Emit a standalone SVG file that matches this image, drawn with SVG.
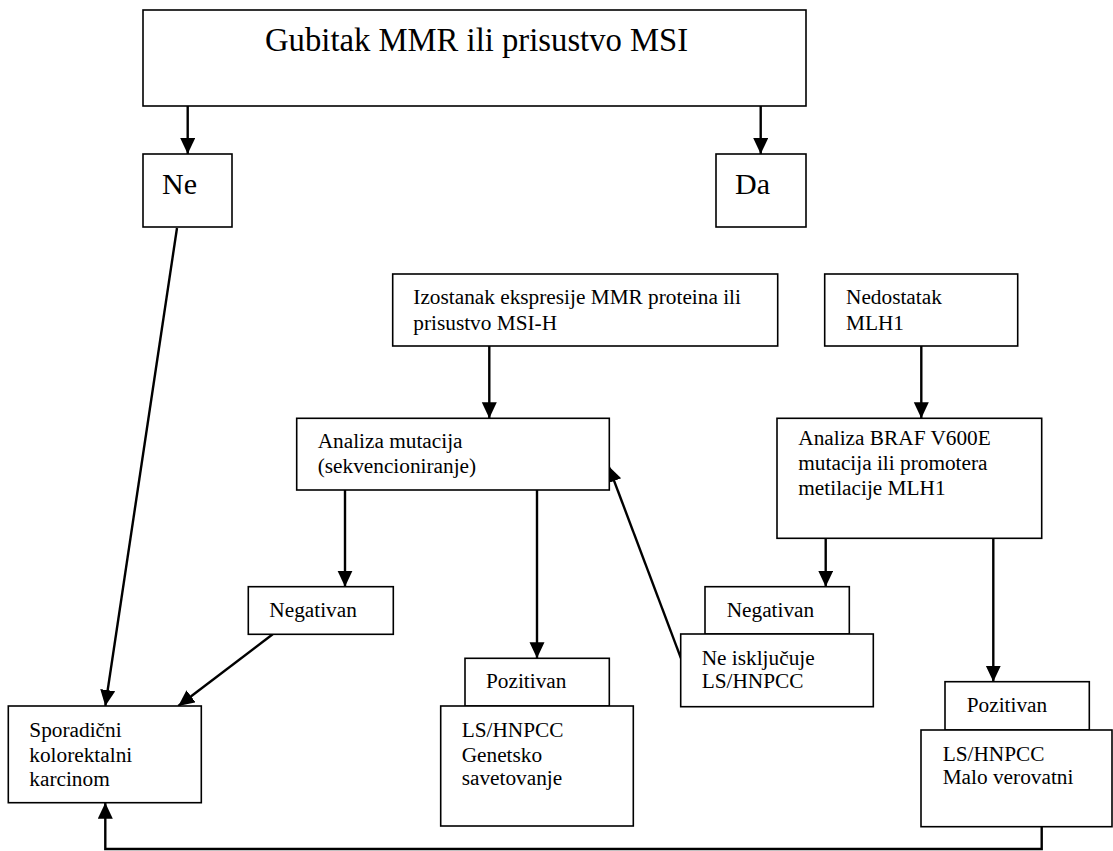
<svg xmlns="http://www.w3.org/2000/svg" width="1113" height="851" viewBox="0 0 1113 851">
<defs>
<style>
.box{fill:#fff;stroke:#000;stroke-width:1.6}
.t{font-family:'Liberation Serif','DejaVu Serif',serif;font-size:21.3px;fill:#000}
.big{font-size:32.7px}
.mid{font-size:30px}
.c{fill:none;stroke:#000;stroke-width:2.4}
</style>
<marker id="ah" markerUnits="userSpaceOnUse" markerWidth="17" markerHeight="16" refX="16" refY="7.5" orient="auto">
<path d="M0,0 L16,7.5 L0,15 z" fill="#000"/>
</marker>
</defs>
<rect width="1113" height="851" fill="#fff"/>
<g id="connectors">
<line class="c" x1="187.7" y1="106" x2="187.7" y2="154" marker-end="url(#ah)"/>
<line class="c" x1="760.7" y1="106" x2="760.7" y2="154" marker-end="url(#ah)"/>
<line class="c" x1="177" y1="228" x2="105.3" y2="706" marker-end="url(#ah)"/>
<line class="c" x1="489.3" y1="346" x2="489.3" y2="418.3" marker-end="url(#ah)"/>
<line class="c" x1="921.3" y1="346" x2="921.3" y2="418.3" marker-end="url(#ah)"/>
<line class="c" x1="345" y1="490" x2="345" y2="586.7" marker-end="url(#ah)"/>
<line class="c" x1="537" y1="490" x2="537" y2="658.3" marker-end="url(#ah)"/>
<line class="c" x1="272.7" y1="634.3" x2="178.3" y2="706" marker-end="url(#ah)"/>
<line class="c" x1="681" y1="658.3" x2="608.5" y2="466" marker-end="url(#ah)"/>
<line class="c" x1="825.7" y1="538.3" x2="825.7" y2="586.7" marker-end="url(#ah)"/>
<line class="c" x1="993.3" y1="538.3" x2="993.3" y2="681.7" marker-end="url(#ah)"/>
<polyline class="c" points="1041.7,826.7 1041.7,849 105.3,849 105.3,802.7" marker-end="url(#ah)"/>
</g>
<g id="n-top">
<rect class="box" x="143" y="10" width="663" height="96"/>
<text class="t big" x="265" y="51">Gubitak MMR ili prisustvo MSI</text>
</g>
<g id="n-ne">
<rect class="box" x="143" y="154" width="89" height="73"/>
<text class="t mid" x="162" y="194">Ne</text>
</g>
<g id="n-da">
<rect class="box" x="716" y="154" width="90" height="73"/>
<text class="t mid" x="735" y="194">Da</text>
</g>
<g id="n-izostanak">
<rect class="box" x="392.7" y="274" width="385" height="72"/>
<text class="t" x="413.3" y="304.3">Izostanak ekspresije MMR proteina ili</text>
<text class="t" x="413.3" y="330">prisustvo MSI-H</text>
</g>
<g id="n-nedostatak">
<rect class="box" x="824.7" y="274" width="193" height="72"/>
<text class="t" x="846" y="304.3">Nedostatak</text>
<text class="t" x="846" y="330">MLH1</text>
</g>
<g id="n-analiza">
<rect class="box" x="296.7" y="418.3" width="312.6" height="71.7"/>
<text class="t" x="317.7" y="448.3">Analiza mutacija</text>
<text class="t" x="317.7" y="473.3">(sekvencioniranje)</text>
</g>
<g id="n-braf">
<rect class="box" x="777" y="418.3" width="264.7" height="120"/>
<text class="t" x="798.3" y="445">Analiza BRAF V600E</text>
<text class="t" x="798.3" y="470">mutacija ili promotera</text>
<text class="t" x="798.3" y="495">metilacije MLH1</text>
</g>
<g id="n-neg1">
<rect class="box" x="248.3" y="586.7" width="145" height="47.6"/>
<text class="t" x="269.3" y="616.7">Negativan</text>
</g>
<g id="n-neg2">
<rect class="box" x="705" y="586.7" width="144.3" height="47.3"/>
<text class="t" x="726.7" y="616.7">Negativan</text>
</g>
<g id="n-neisklj">
<rect class="box" x="680.7" y="634" width="192.6" height="72.7"/>
<text class="t" x="701.7" y="665">Ne isključuje</text>
<text class="t" x="701.7" y="688.3">LS/HNPCC</text>
</g>
<g id="n-poz1">
<rect class="box" x="465" y="658.3" width="144.3" height="47.7"/>
<text class="t" x="486" y="688.3">Pozitivan</text>
</g>
<g id="n-genetsko">
<rect class="box" x="440.7" y="706" width="192.6" height="120"/>
<text class="t" x="461.7" y="737.3">LS/HNPCC</text>
<text class="t" x="461.7" y="761.7">Genetsko</text>
<text class="t" x="461.7" y="785">savetovanje</text>
</g>
<g id="n-poz2">
<rect class="box" x="945" y="681.7" width="144.3" height="48.3"/>
<text class="t" x="966.7" y="712.3">Pozitivan</text>
</g>
<g id="n-malo">
<rect class="box" x="921" y="730" width="191" height="96.7"/>
<text class="t" x="942.7" y="760.7">LS/HNPCC</text>
<text class="t" x="942.7" y="784">Malo verovatni</text>
</g>
<g id="n-sporadicni">
<rect class="box" x="8.3" y="706" width="193" height="96.7"/>
<text class="t" x="29.3" y="736.7">Sporadični</text>
<text class="t" x="29.3" y="761.7">kolorektalni</text>
<text class="t" x="29.3" y="786">karcinom</text>
</g>
</svg>
